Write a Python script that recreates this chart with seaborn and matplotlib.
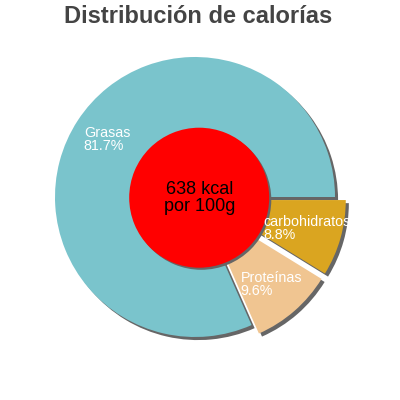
import numpy as np
import matplotlib
matplotlib.use('Agg')
import matplotlib.pyplot as plt
import seaborn as sns

sns.set_theme(style='white')
plt.rcParams['font.family'] = ['Liberation Sans', 'DejaVu Sans']

# data
labels = ['Grasas', 'Proteínas', 'carbohidratos']
values = [81.7, 9.6, 8.8]
colors = ['#7ac4cc', '#f0c591', '#daa520']
explode = [0, 0.08, 0.08]
kcal_text = '638 kcal\npor 100g'
title = 'Distribución de calorías'

fig = plt.figure(figsize=(4, 4), dpi=100)
ax = fig.add_axes([0.1375, 0.1575, 0.7, 0.7])

shadow_col = '#666666'
off = 0.022

# flat grey shadow under the pie, then the pie itself
ax.pie(values, colors=[shadow_col] * len(values), explode=explode, startangle=0,
       center=(off, -off), wedgeprops={'linewidth': 0})
ax.pie(values, colors=colors, explode=explode, startangle=0,
       wedgeprops={'linewidth': 0})

# label each wedge inside, at its middle angle
total = sum(values)
start = 0
for lab, v, ex in zip(labels, values, explode):
    ang = np.deg2rad(start + 360 * v / total / 2)
    r = 0.75 + ex
    ax.text(r * np.cos(ang), r * np.sin(ang), f'{lab}\n{v:.1f}%',
            ha='center', va='center', multialignment='left',
            color='white', fontsize=10.3, linespacing=0.95)
    start += 360 * v / total

# red centre disc with its shadow
cx, cy = 0.03, -0.005
ax.pie([1], colors=[shadow_col], radius=0.5, center=(cx + 0.015, cy - 0.015),
       wedgeprops={'linewidth': 0})
ax.pie([1], colors=['#ff0000'], radius=0.5, center=(cx, cy),
       wedgeprops={'linewidth': 0})
ax.text(cx, cy, kcal_text, ha='center', va='center', fontsize=13, color='black',
        linespacing=1.0)

ax.set_xlim(-1, 1)
ax.set_ylim(-1, 1)
ax.set_aspect('equal')
ax.axis('off')

fig.text(0.495, 0.958, title, ha='center', va='center', fontsize=17,
         fontweight='bold', color='#444444')

fig.savefig('out.png', dpi=100)
